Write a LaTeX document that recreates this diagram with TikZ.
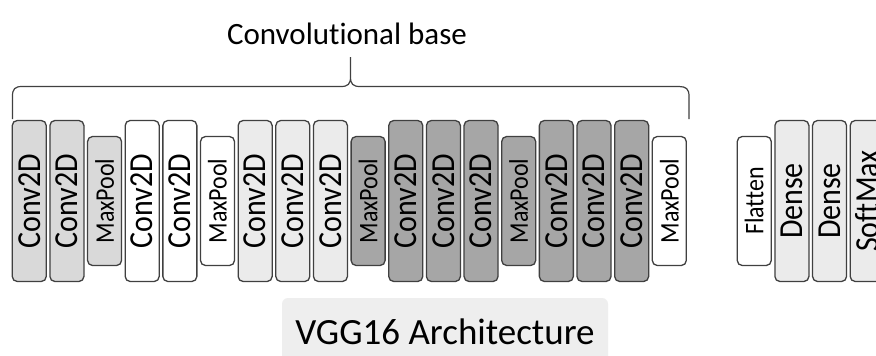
\documentclass[tikz,border=0pt]{standalone}
\usepackage{fontspec}
\setmainfont{Carlito}[Ligatures=NoCommon]
\usepackage{graphicx}
\definecolor{gA}{HTML}{D9D9D9}
\definecolor{gL}{HTML}{EBEBEB}
\definecolor{gD}{HTML}{A6A6A6}
\definecolor{gW}{HTML}{FFFFFF}
\definecolor{bord}{HTML}{404040}
\definecolor{capbg}{HTML}{EEEEEE}
\tikzset{
  lay/.style={draw=bord, line width=1.3pt, rounded corners=5pt, inner sep=0pt, minimum width=34pt},
  tallb/.style={lay, minimum height=161pt, font=\fontsize{30}{30}\selectfont},
  shortb/.style={lay, minimum height=129pt, font=\fontsize{24}{24}\selectfont},
  bracel/.style={draw=bord, line width=1.2pt},
  captxt/.style={inner sep=0pt, text=black},
}
\begin{document}
\begin{tikzpicture}[x=1pt, y=-1pt]
\clip (0,0) rectangle (876,356);
\fill[white] (0,0) rectangle (876,356);
% caption background
\fill[capbg, rounded corners=6pt] (282,298) rectangle (608,362);
% layers
\foreach \i/\txt/\kind/\col/\xl in {
  1/Conv2D/tallb/gA/12, 2/Conv2D/tallb/gA/49.65, 3/MaxPool/shortb/gA/87.3,
  4/Conv2D/tallb/gW/124.95, 5/Conv2D/tallb/gW/162.6, 6/MaxPool/shortb/gW/200.25,
  7/Conv2D/tallb/gL/237.9, 8/Conv2D/tallb/gL/275.55, 9/Conv2D/tallb/gL/313.2,
  10/MaxPool/shortb/gD/350.85,
  11/Conv2D/tallb/gD/388.5, 12/Conv2D/tallb/gD/426.15, 13/Conv2D/tallb/gD/463.8,
  14/MaxPool/shortb/gD/501.45,
  15/Conv2D/tallb/gD/539.1, 16/Conv2D/tallb/gD/576.75, 17/Conv2D/tallb/gD/614.4,
  18/MaxPool/shortb/gW/652.05,
  19/Flatten/shortb/gW/737, 20/Dense/tallb/gL/774.65, 21/Dense/tallb/gL/812.3,
  22/SoftMax/tallb/gL/849.95}
{
  \node[\kind, fill=\col] (b\i) at (\xl+17.25,201) {\rotatebox{90}{\scalebox{1}[1.12]{\txt}}};
}
% brace
\coordinate (brL) at (12.5,119);
\coordinate (brR) at (689,119);
\coordinate (brT) at (350.5,57);
\draw[bracel] (brL) -- (12.5,96) .. controls (12.5,89) and (15,86.5) .. (22,86.5)
  -- (341,86.5) .. controls (348,86.5) and (350.5,84) .. (350.5,77) -- (brT)
  -- (350.5,77) .. controls (350.5,84) and (353,86.5) .. (360,86.5)
  -- (679,86.5) .. controls (686,86.5) and (689,89) .. (689,96) -- (brR);
% captions
\node[captxt, anchor=base, font=\fontsize{31}{31}\selectfont] (cb) at (347,44) {Convolutional base};
\node[captxt, anchor=base, font=\fontsize{37}{37}\selectfont] (vgg) at (445,344) {VGG16 Architecture};
\end{tikzpicture}
\end{document}
